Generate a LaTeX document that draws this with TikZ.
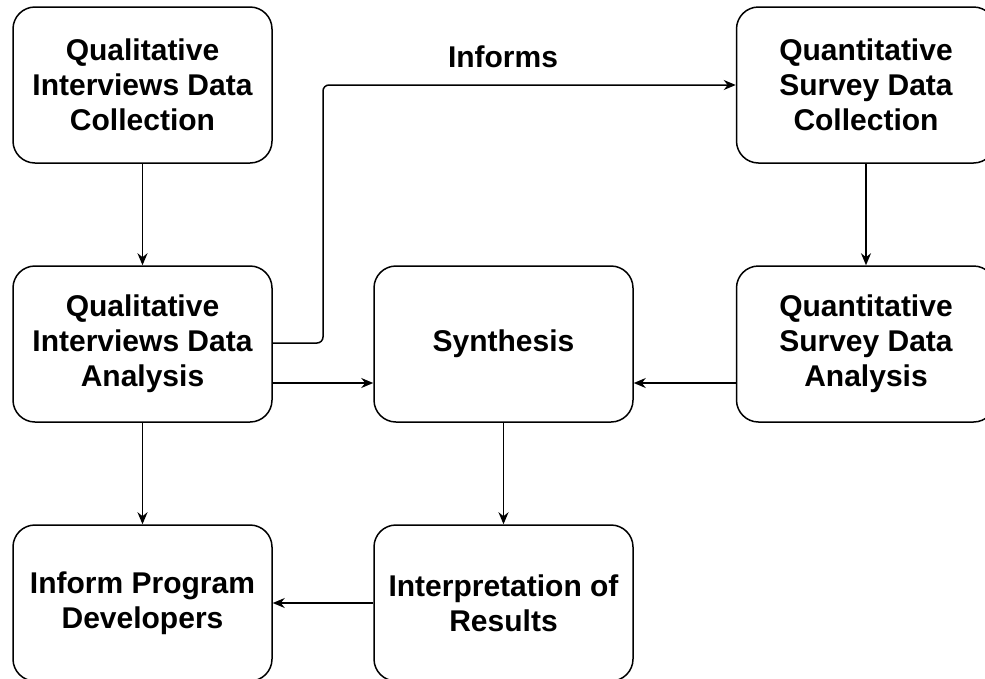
\documentclass[tikz,border=0pt]{standalone}
\usepackage{fontspec}
\setmainfont{Liberation Sans}
\usetikzlibrary{arrows.meta}
\begin{document}
\begin{tikzpicture}[x=1pt,y=-1pt,
  box/.style={draw, line width=1.5pt, rounded corners=22pt, minimum width=259pt, minimum height=156pt,
    align=center, inner sep=0pt, font=\fontsize{30}{35}\selectfont\bfseries},
  arr/.style={-{Stealth[length=12pt,width=10pt]}, line width=1.5pt},
  lbl/.style={font=\fontsize{30}{35}\selectfont\bfseries}]
\useasboundingbox (0,0) rectangle (985,678);
\node[box] (qc)  at (142.5,85)  {Qualitative\\Interviews Data\\Collection};
\node[box] (sc)  at (866,85)    {Quantitative\\Survey Data\\Collection};
\node[box] (qa)  at (142.5,344) {Qualitative\\Interviews Data\\Analysis};
\node[box] (syn) at (503.5,344) {Synthesis};
\node[box] (sa)  at (866,344)   {Quantitative\\Survey Data\\Analysis};
\node[box] (ipd) at (142.5,603) {Inform Program\\Developers};
\node[box] (ir)  at (503.5,603) {Interpretation of\\Results};
\node[lbl] (inf) at (503,57) {Informs};
\coordinate (k1) at (323,343);
\coordinate (k2) at (0,383);
\draw[arr] (qc) -- (qa);
\draw[arr] (qa) -- (ipd);
\draw[arr, rounded corners=6pt] (qa.east |- k1) -- (k1) -- (k1 |- sc.west) -- (sc.west);
\draw[arr] (qa.east |- k2) -- (syn.west |- k2);
\draw[arr] (sa.west |- k2) -- (syn.east |- k2);
\draw[arr] (sc) -- (sa);
\draw[arr] (syn) -- (ir);
\draw[arr] (ir) -- (ipd);
\end{tikzpicture}
\end{document}
